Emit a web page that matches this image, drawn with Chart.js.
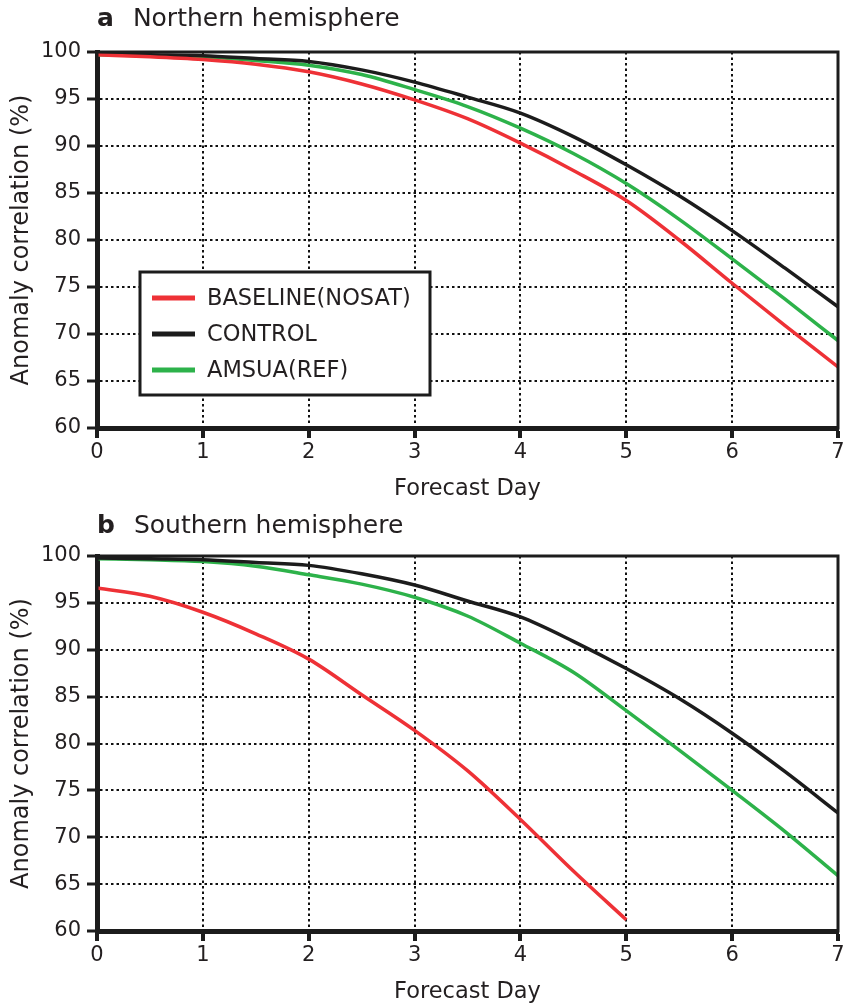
<!DOCTYPE html>
<html>
<head>
<meta charset="utf-8">
<script src="https://cdn.jsdelivr.net/npm/chart.js@4"></script>
<style>
  body { margin: 0; background: #fff; }
  #wrap { position: relative; width: 844px; height: 1006px; }
  .panel { position: absolute; left: 0; width: 844px; height: 503px; }
  .ttl { position: absolute; left: 97px; font: 25px "DejaVu Sans", sans-serif; line-height: 24px; color: #231f20; }
  .ttl b { margin-right: 19px; }
</style>
</head>
<body>
<div id="wrap">
  <div class="panel" style="top:0"><canvas id="nh" width="844" height="503"></canvas></div>
  <div class="panel" style="top:503px"><canvas id="sh" width="844" height="503"></canvas></div>
  <div class="ttl" style="top:6px"><b>a</b>Northern hemisphere</div>
  <div class="ttl" style="top:513px"><b>b</b>Southern hemisphere</div>
</div>
<script>
/* valeurs */
const labels = ["BASELINE(NOSAT)", "CONTROL", "AMSUA(REF)"];
const colors = ["#ee3136", "#1c1c1c", "#2db24a"];

const days = [0, 0.5, 1, 1.5, 2, 2.5, 3, 3.5, 4, 4.5, 5, 5.5, 6, 6.5, 7];

const nhBaseline = [99.7, 99.5, 99.2, 98.7, 97.9, 96.6, 94.9, 92.9, 90.3, 87.4, 84.2, 80.0, 75.4, 70.9, 66.5];
const nhControl  = [99.8, 99.7, 99.6, 99.3, 99.0, 98.1, 96.8, 95.2, 93.5, 91.0, 88.0, 84.7, 81.0, 77.0, 72.9];
const nhAmsua    = [99.7, 99.6, 99.5, 99.1, 98.6, 97.6, 96.0, 94.2, 91.9, 89.2, 86.0, 82.2, 78.0, 73.7, 69.3];

const shBaseline = [96.6, 95.7, 94.0, 91.7, 89.0, 85.2, 81.4, 77.1, 71.9, 66.4, 61.2];
const shControl  = [99.8, 99.7, 99.6, 99.3, 99.0, 98.1, 96.9, 95.2, 93.5, 90.9, 88.0, 84.8, 81.1, 77.0, 72.6];
const shAmsua    = [99.7, 99.6, 99.4, 98.9, 98.0, 97.0, 95.6, 93.6, 90.7, 87.6, 83.5, 79.3, 75.0, 70.6, 65.9];

const xTicks = [0, 1, 2, 3, 4, 5, 6, 7];
const yTicks = [60, 65, 70, 75, 80, 85, 90, 95, 100];

const txt = "#231f20";
const fnt = { family: "'DejaVu Sans', sans-serif", size: 21 };

function pts(vals) {
  return vals.map((v, i) => ({ x: days[i], y: v }));
}

// cadre du graphique
const frame = {
  id: "frame",
  afterDatasetsDraw(chart) {
    const a = chart.chartArea, ctx = chart.ctx;
    ctx.save();
    ctx.lineWidth = 3;
    ctx.strokeStyle = "#1c1c1c";
    ctx.strokeRect(a.left, a.top, a.right - a.left, a.bottom - a.top);
    ctx.restore();
  }
};

// légende encadrée dans la zone du graphique
const boxLegend = {
  id: "boxLegend",
  afterDraw(chart, args, opts) {
    if (!opts.show) return;
    const ctx = chart.ctx, a = chart.chartArea;
    const x = a.left + 43, y = a.top + 220;
    ctx.save();
    ctx.fillStyle = "#fff";
    ctx.fillRect(x, y, 290, 123);
    ctx.lineWidth = 3;
    ctx.strokeStyle = "#1c1c1c";
    ctx.strokeRect(x, y, 290, 123);
    ctx.font = "22.5px 'DejaVu Sans', sans-serif";
    ctx.textBaseline = "middle";
    chart.data.datasets.forEach((ds, i) => {
      const ly = y + 26 + i * 36;
      ctx.strokeStyle = ds.borderColor;
      ctx.lineWidth = 5;
      ctx.beginPath();
      ctx.moveTo(x + 12, ly);
      ctx.lineTo(x + 55, ly);
      ctx.stroke();
      ctx.fillStyle = txt;
      ctx.fillText(ds.label, x + 67, ly + 1);
    });
    ctx.restore();
  }
};

function makeChart(id, series, topPad, showLegend) {
  return new Chart(document.getElementById(id), {
    type: "line",
    data: {
      datasets: series.map((s, i) => ({
        label: labels[i],
        data: pts(s),
        borderColor: colors[i],
        backgroundColor: colors[i],
        borderWidth: 3.5,
        pointRadius: 0,
        cubicInterpolationMode: "monotone",
        fill: false
      }))
    },
    options: {
      responsive: false,
      animation: false,
      layout: { padding: { top: topPad, right: 6, left: 0, bottom: 0 } },
      plugins: {
        legend: { display: false },
        tooltip: { enabled: false },
        boxLegend: { show: showLegend }
      },
      scales: {
        x: {
          type: "linear",
          min: 0, max: 7,
          afterFit(s) { s.height = 75; s.paddingRight = 0; s.paddingLeft = 0; },
          afterBuildTicks(s) { s.ticks = xTicks.map(v => ({ value: v })); },
          ticks: { color: txt, font: fnt, padding: 2, maxRotation: 0 },
          grid: { color: "#111", lineWidth: 2, tickLength: 10, tickWidth: 4, tickColor: "#1c1c1c" },
          border: { color: "#1c1c1c", width: 5, dash: [2.5, 3] },
          title: { display: true, text: "Forecast Day", color: txt, font: { family: fnt.family, size: 22.5 }, padding: { top: 0, bottom: 0 } }
        },
        y: {
          min: 60, max: 100,
          afterFit(s) { s.width = 97; },
          afterBuildTicks(s) { s.ticks = yTicks.map(v => ({ value: v })); },
          ticks: { color: txt, font: fnt, padding: 6 },
          grid: { color: "#111", lineWidth: 2, tickLength: 10, tickWidth: 3, tickColor: "#1c1c1c" },
          border: { color: "#1c1c1c", width: 5, dash: [2.5, 3] },
          title: { display: true, text: "Anomaly correlation (%)", color: txt, font: { family: fnt.family, size: 24 }, padding: { top: 7, bottom: 0 } }
        }
      }
    },
    plugins: [frame, boxLegend]
  });
}

makeChart("nh", [nhBaseline, nhControl, nhAmsua], 52, true);
makeChart("sh", [shBaseline, shControl, shAmsua], 53, false);
</script>
</body>
</html>
